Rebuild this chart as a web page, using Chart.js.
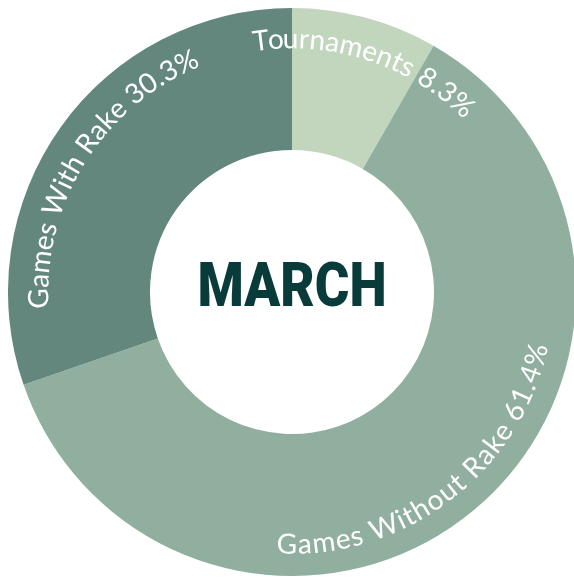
<!DOCTYPE html>
<html>
<head>
<meta charset="utf-8">
<script src="https://cdn.jsdelivr.net/npm/chart.js@4/dist/chart.umd.min.js"></script>
<style>
  html, body { margin: 0; padding: 0; background: #ffffff; overflow: hidden; width: 574px; height: 578px; }
  #wrap { position: absolute; left: 8px; top: 8px; width: 568px; height: 568px; }
</style>
</head>
<body>
<div id="wrap"><canvas id="c" width="568" height="568"></canvas></div>
<script>
const categories = ["Tournaments", "Games Without Rake", "Games With Rake"];
const shares = [8.3, 61.4, 30.3];
const sliceColors = ["#c2d6bd", "#91af9e", "#63877d"];
const centerTitle = "MARCH";

const curvedLabels = {
  id: 'curvedLabels',
  afterDatasetsDraw(chart, args, opts) {
    const ctx = chart.ctx;
    const meta = chart.getDatasetMeta(0);
    const spacing = opts.spacing || 0;
    ctx.save();
    ctx.fillStyle = '#ffffff';
    ctx.font = opts.font;
    ctx.textAlign = 'center';
    ctx.textBaseline = 'middle';
    meta.data.forEach((arc, i) => {
      const p = arc.getProps(['x', 'y', 'startAngle', 'endAngle', 'innerRadius', 'outerRadius'], true);
      const text = categories[i] + ' ' + shares[i].toFixed(1) + '%';
      const r = p.innerRadius + opts.radiusFrac * (p.outerRadius - p.innerRadius);
      const mid = (p.startAngle + p.endAngle) / 2 + (opts.shiftDeg[i] || 0) * Math.PI / 180;
      const total = ctx.measureText(text).width + spacing * (text.length - 1);
      const span = total / r;
      const bottom = Math.sin(mid) > 0.25;
      let prev = 0;
      for (let k = 0; k < text.length; k++) {
        const w = ctx.measureText(text.slice(0, k + 1)).width;
        const cw = w - prev;
        const centerOff = (prev + cw / 2 + spacing * k) / r;
        prev = w;
        let a, rot;
        if (!bottom) {
          a = mid - span / 2 + centerOff;
          rot = a + Math.PI / 2;
        } else {
          a = mid + span / 2 - centerOff;
          rot = a - Math.PI / 2;
        }
        ctx.save();
        ctx.translate(p.x + r * Math.cos(a), p.y + r * Math.sin(a));
        ctx.rotate(rot);
        ctx.fillText(text[k], 0, 0);
        ctx.restore();
      }
    });
    // center title
    const cx = meta.data[0].x, cy = meta.data[0].y;
    ctx.fillStyle = '#083b3a';
    ctx.font = '900 62px Roboto';
    ctx.textAlign = 'center';
    ctx.textBaseline = 'alphabetic';
    const tw = ctx.measureText(centerTitle).width;
    const sx = 189 / tw;
    ctx.translate(cx, cy + 14);
    ctx.scale(sx, 1);
    ctx.fillText(centerTitle, 0, 0);
    ctx.restore();
  }
};

new Chart(document.getElementById('c'), {
  type: 'doughnut',
  data: {
    labels: categories,
    datasets: [{
      data: shares,
      backgroundColor: sliceColors,
      borderWidth: 0
    }]
  },
  options: {
    responsive: false,
    animation: false,
    cutout: '50%',
    layout: { padding: 0 },
    plugins: {
      legend: { display: false },
      tooltip: { enabled: false },
      curvedLabels: { font: '400 28px Lato', spacing: 0.6, radiusFrac: 0.78, shiftDeg: [3, 2.3, -3.4] }
    }
  },
  plugins: [curvedLabels]
});
</script>
</body>
</html>
